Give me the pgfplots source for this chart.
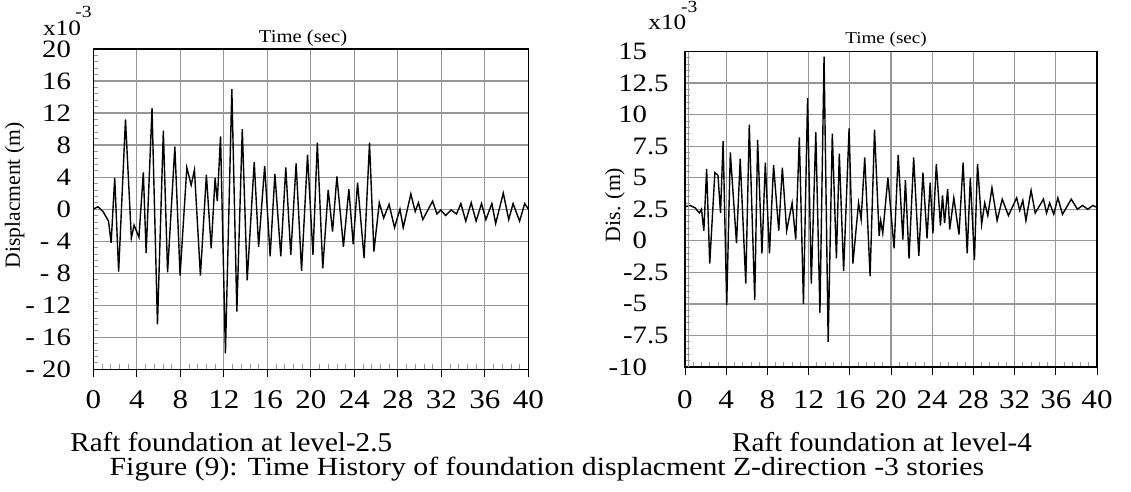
\documentclass[border=0pt]{standalone}
\usepackage{fontspec}
\setmainfont{Liberation Serif}
\newfontfamily\wide[FakeStretch=1.15]{Liberation Serif}
\newfontfamily\capa[FakeStretch=1.07]{Liberation Serif}
\newfontfamily\capb[FakeStretch=1.135]{Liberation Serif}
\usepackage{pgfplots}
\pgfplotsset{compat=1.18}

\definecolor{gridgray}{RGB}{150,150,150}

\pgfplotsset{
  thplot/.style={
    scale only axis, anchor=south west,
    xmin=0, xmax=40,
    xtick={0,4,...,40},
    xticklabels={0,4,8,12,16,20,24,28,32,36,40},
    minor x tick num=4, minor y tick num=4,
    xmajorgrids, ymajorgrids,
    grid style={gridgray, line width=0.6pt},
    axis line style={black, line width=0.6pt},
    tick align=inside,
    major tick length=0pt,
    minor tick length=2.5pt,
    minor tick style={gridgray, line width=0.4pt},
    xtick pos=bottom, ytick pos=left,
    xticklabel style={font=\wide\fontsize{13.5}{13.5}\selectfont, anchor=base, inner sep=0pt},
    yticklabel style={anchor=east, inner sep=0pt},
    extra x ticks={0,4,...,40}, extra x tick labels={},
    extra x tick style={grid=none, tick align=outside, major tick length=4pt,
      tick style={black, line width=0.5pt}},
  },
}

\begin{document}
\begin{tikzpicture}
\path[use as bounding box] (0,0) rectangle (565.5pt,-246pt);

% left: raft at level -2.5
\begin{axis}[thplot,
  at={(46.65pt,-184.65pt)}, width=217.5pt, height=160.15pt,
  ymin=-20, ymax=20,
  ytick={-20,-16,...,20},
  yticklabels={- 20,- 16,- 12,- 8,- 4,0,4,8,12,16,20},
  yticklabel style={font=\wide\fontsize{12.5}{12.5}\selectfont, xshift=-11pt},
  xticklabel style={yshift=-19.75pt},
]
\addplot[black, line width=0.7pt] coordinates {
(0,0) (0.43,0.3) (0.9,-0.3) (1.4,-1.5) (1.64,-4.2) (1.97,3.9) (2.33,-7.8) (2.96,11.2)
(3.5,-3.6) (3.75,-2.0) (4.2,-3.5) (4.6,4.6) (4.86,-5.5) (5.4,12.6) (5.9,-14.4) (6.44,9.8)
(6.83,-7.9) (7.5,7.8) (7.98,-8.3) (8.6,5.2) (9.0,3.0) (9.3,4.9) (9.85,-8.3) (10.4,4.3)
(10.84,-4.9) (11.2,3.9) (11.4,1.0) (11.7,9.1) (12.15,-18.0) (12.74,15.0) (13.2,-12.8)
(13.7,10.0) (14.15,-8.9) (14.8,5.9) (15.2,-4.7) (15.76,5.4) (16.26,-5.9) (16.7,4.4)
(17.24,-5.9) (17.7,5.2) (18.16,-5.7) (18.65,5.7) (19.15,-7.7) (19.7,6.8) (20.2,-5.7)
(20.6,8.3) (21.1,-7.4) (21.6,2.4) (22.0,-2.8) (22.4,4.1) (23.0,-4.7) (23.5,2.5)
(23.9,-4.4) (24.3,3.3) (24.9,-6.1) (25.4,8.3) (25.8,-5.3) (26.3,0.8) (26.7,-1.1)
(27.2,0.6) (27.7,-2.3) (28.2,0) (28.5,-2.3) (29.2,1.9) (29.6,-0.3) (29.9,0.8) (30.3,-1.3)
(31.2,1.0) (31.6,-0.6) (31.95,-0.1) (32.4,-0.8) (32.9,-0.1) (33.4,-0.6) (33.8,0.7)
(34.25,-1.5) (34.75,0.8) (35.2,-1.5) (35.7,0.7) (36.1,-1.3) (36.65,0.7) (37.0,-1.8)
(37.7,2.0) (38.2,-1.3) (38.6,0.7) (39.2,-1.5) (39.67,0.7) (40,0)
};
\end{axis}

% right: raft at level -4
\begin{axis}[thplot,
  at={(342.5pt,-183.5pt)}, width=206pt, height=157.75pt,
  ymin=-10, ymax=15,
  ytick={-10,-7.5,...,15},
  yticklabels={-10\phantom{.5},-7.5,-5\phantom{.5},-2.5,0\phantom{.5},2.5,5\phantom{.5},7.5,10\phantom{.5},12.5,15\phantom{.5}},
  yticklabel style={font=\wide\fontsize{12.5}{12.5}\selectfont, xshift=-8pt},
  xticklabel style={yshift=-20.9pt},
]
\addplot[black, line width=0.7pt] coordinates {
(0,2.7) (0.5,2.8) (1.0,2.6) (1.4,2.2) (1.6,2.5) (1.83,0.8) (2.1,5.7) (2.4,-1.8) (2.9,5.4)
(3.2,5.2) (3.45,2.2) (3.7,7.9) (4.05,-5.1) (4.4,7.0) (5.0,-0.2) (5.36,6.5) (5.9,-3.4)
(6.24,9.2) (6.77,-4.7) (7.05,8.0) (7.47,-1.0) (7.8,6.2) (8.2,-1.0) (8.6,6.0) (9.1,0.8)
(9.45,5.8) (9.87,0.8) (10.4,3.0) (10.75,0.1) (11.1,8.2) (11.5,-5.0) (11.9,11.3)
(12.26,-3.4) (12.7,8.6) (13.1,-5.7) (13.5,14.6) (13.9,-8.0) (14.3,8.5) (14.7,-1.4)
(14.98,6.9) (15.4,-2.4) (15.93,8.9) (16.3,-1.8) (16.85,3.0) (17.1,1.7) (17.45,6.6)
(17.97,-2.8) (18.4,8.8) (18.85,0.4) (19.0,1.6) (19.2,0.6) (19.7,5.0) (20.3,-0.6)
(20.7,6.8) (21.15,0.1) (21.4,4.8) (21.75,-1.4) (22.2,6.6) (22.7,-1.2) (23.1,5.4)
(23.5,0.2) (23.8,4.6) (24.07,0.6) (24.4,6.1) (24.8,1.2) (25.0,3.6) (25.2,1.4) (25.5,4.1)
(25.7,0.9) (26.1,3.4) (26.6,0.5) (27.0,6.2) (27.4,-1.0) (27.7,5.0) (28.1,-1.5) (28.4,6.1)
(28.8,1.3) (29.1,3.0) (29.4,2.0) (29.8,4.2) (30.3,1.6) (30.8,3.3) (31.4,2.0) (32.2,3.4)
(32.5,2.4) (32.8,3.2) (33.1,1.6) (33.6,4.0) (34.0,2.2) (34.8,3.3) (35.1,2.2) (35.4,3.0)
(35.8,2.1) (36.2,3.4) (36.65,2.1) (37.5,3.3) (38.1,2.5) (38.6,2.8) (39.1,2.5) (39.6,2.8)
(40,2.65)
};
\draw[black, line width=0.5pt] ([yshift=2pt]rel axis cs:0,1) -- ([xshift=1.5pt,yshift=2pt]rel axis cs:1,1)
  -- ([xshift=1.5pt]rel axis cs:1,0);
\draw[gridgray, line width=0.4pt] ([xshift=1.5pt]rel axis cs:0,0) -- ([xshift=1.5pt]rel axis cs:0,1);
\end{axis}

% axis texts
\node[anchor=base, inner sep=0pt, font=\wide\fontsize{9}{9}\selectfont] at (151.5pt,-21.5pt) {Time (sec)};
\node[anchor=base, inner sep=0pt, font=\wide\fontsize{8.3}{8.3}\selectfont] at (443pt,-22pt) {Time (sec)};
\node[anchor=base west, inner sep=0pt, font=\wide\fontsize{11}{11}\selectfont] at (21.3pt,-17.6pt) {x10};
\node[anchor=base west, inner sep=0pt, font=\wide\fontsize{8.5}{8.5}\selectfont] at (37.5pt,-8.6pt) {-3};
\node[anchor=base west, inner sep=0pt, font=\wide\fontsize{11}{11}\selectfont] at (324pt,-15pt) {x10};
\node[anchor=base west, inner sep=0pt, font=\wide\fontsize{8.5}{8.5}\selectfont] at (340.3pt,-6.5pt) {-3};
\node[rotate=90, inner sep=0pt, font=\fontsize{10.8}{10.8}\selectfont] at (7.3pt,-97.7pt) {Displacment (m)};
\node[rotate=90, inner sep=0pt, font=\fontsize{10.9}{10.9}\selectfont] at (307.5pt,-102.5pt) {Dis. (m)};

% captions
\node[anchor=base west, inner sep=0pt, font=\capa\fontsize{13.6}{13.6}\selectfont] at (35pt,-225.6pt) {Raft foundation at level-2.5};
\node[anchor=base west, inner sep=0pt, font=\capa\fontsize{13.6}{13.6}\selectfont] at (365.85pt,-225.6pt) {Raft foundation at level-4};
\node[anchor=base west, inner sep=0pt, font=\capb\fontsize{13.1}{13.1}\selectfont] at (54.65pt,-237.8pt) {Figure (9): Time History of foundation displacment Z-direction -3 stories};
\end{tikzpicture}
\end{document}
